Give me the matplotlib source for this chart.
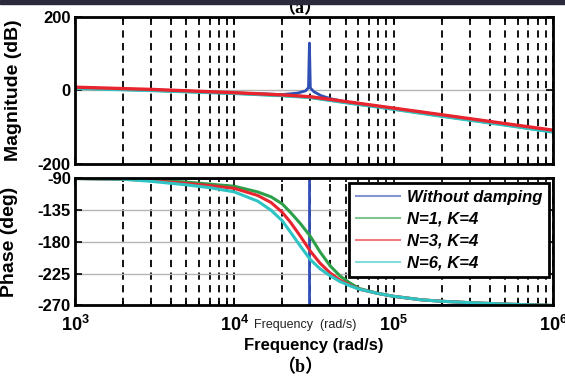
import matplotlib
matplotlib.use('Agg')
import matplotlib.pyplot as plt
from matplotlib.patches import Rectangle

plt.rcParams['font.family'] = ['Liberation Sans', 'DejaVu Sans']
plt.rcParams['mathtext.fontset'] = 'custom'
plt.rcParams['mathtext.rm'] = 'Liberation Sans'
plt.rcParams['mathtext.bf'] = 'Liberation Sans:bold'

# magnitude (dB)
mag_freq = [1e3, 3e3, 1e4, 2e4, 3e4, 5e4, 1e5, 2e5, 5e5, 1e6]
mag_n1 = [7, 1, -7, -13, -18, -32, -50, -69, -93, -112]
mag_n3 = [9, 3, -6, -12, -17, -30, -48, -66, -90, -108]
mag_n6 = [6, 0, -8, -14, -19, -33, -51, -70, -94, -113]

mag_blue_freq = [1e3, 1e4, 2e4, 2.5e4, 2.8e4, 2.92e4, 2.96e4, 3.0e4, 3.15e4, 3.5e4, 4e4, 5e4, 1e5, 2e5, 5e5, 1e6]
mag_blue = [8, -7, -11, -7, -1, 8, 129, 7, -3, -14, -22, -31, -49, -67, -91, -109]

# phase (deg)
ph_freq = [1e3, 2e3, 3e3, 5e3, 7e3, 1e4, 1.4e4, 1.7e4, 2e4, 2.25e4, 2.6e4, 3e4,
           3.45e4, 4e4, 4.6e4, 5.3e4, 6.1e4, 8e4, 1e5, 1.5e5, 2e5, 3e5, 5e5, 1e6]
ph_n1 = [-90, -91, -92, -95, -98, -101, -109, -116, -126, -138, -154, -172,
         -194, -214, -228, -238, -246, -253, -257, -262, -264, -266, -268, -270]
ph_n3 = [-90, -91, -93, -97, -100, -104, -114, -124, -138, -152, -172, -193,
         -210, -224, -234, -241, -247, -253, -257, -262, -264, -266, -268, -270]
ph_n6 = [-90, -91, -94, -99, -103, -109, -122, -135, -150, -166, -186, -205,
         -218, -228, -236, -242, -247, -253, -257, -262, -264, -266, -268, -270]

ph_blue_freq = [1e3, 2.96e4, 2.96e4, 1e6]
ph_blue = [-90, -90, -270, -270]

labels = ['Without damping', 'N=1, K=4', 'N=3, K=4', 'N=6, K=4']
colors = ['#2f4fb5', '#2ca048', '#e8252f', '#2fc4c4']

fig = plt.figure(figsize=(5.65, 3.81), dpi=100)
ax1 = fig.add_axes([0.1327, 0.5696, 0.8461, 0.3858])
ax2 = fig.add_axes([0.1327, 0.1982, 0.8461, 0.3333])


def style_axis(ax):
    ax.set_xscale('log')
    ax.set_xlim(1e3, 1e6)
    ax.set_axisbelow(True)
    ax.grid(True, which='both', axis='x', color='k', linestyle=(0, (4, 3)), linewidth=1.3)
    ax.grid(True, which='major', axis='y', color='#b4b4b4', linestyle='-', linewidth=1.0)
    ax.tick_params(which='both', direction='in', top=True, right=True, width=1.2)
    ax.tick_params(which='major', length=5, labelsize=12, pad=3)
    ax.tick_params(which='minor', length=3)
    for s in ax.spines.values():
        s.set_linewidth(2.0)


style_axis(ax1)
style_axis(ax2)

ax1.plot(mag_blue_freq, mag_blue, color=colors[0], lw=2)
ax1.plot(mag_freq, mag_n1, color=colors[1], lw=2.4)
ax1.plot(mag_freq, mag_n6, color=colors[3], lw=2.4)
ax1.plot(mag_freq, mag_n3, color=colors[2], lw=2.4)
ax1.set_ylim(-200, 200)
ax1.set_yticks([-200, 0, 200])
ax1.set_yticklabels(['-200', '0', '200'], fontweight='bold')
ax1.tick_params(labelbottom=False)
ax1.set_ylabel('Magnitude (dB)', fontsize=14, fontweight='bold')
ax1.yaxis.set_label_coords(-0.111, 0.5)

ax2.plot(ph_blue_freq, ph_blue, color=colors[0], lw=2, label=labels[0])
ax2.plot(ph_freq, ph_n1, color=colors[1], lw=2.2, label=labels[1])
ax2.plot(ph_freq, ph_n3, color=colors[2], lw=2.2, label=labels[2])
ax2.plot(ph_freq, ph_n6, color=colors[3], lw=2.2, label=labels[3])
ax2.set_ylim(-270, -90)
ax2.set_yticks([-270, -225, -180, -135, -90])
ax2.set_yticklabels(['-270', '-225', '-180', '-135', '-90'], fontweight='bold')
ax2.set_xticks([1e3, 1e4, 1e5, 1e6])
ax2.set_xticklabels([r'$\mathbf{10^{3}}$', r'$\mathbf{10^{4}}$',
                     r'$\mathbf{10^{5}}$', r'$\mathbf{10^{6}}$'], fontsize=13)
ax2.tick_params(axis='x', which='major', pad=7)
ax2.set_ylabel('Phase (deg)', fontsize=14, fontweight='bold')
ax2.yaxis.set_label_coords(-0.12, 0.5)
ax2.set_xlabel('Frequency (rad/s)', fontsize=12, fontweight='bold', labelpad=2)

leg = ax2.legend(loc='upper right', bbox_to_anchor=(0.9916, 0.9646), borderaxespad=0,
                 fancybox=False, framealpha=1, edgecolor='k', handlelength=2.65,
                 handletextpad=0.4, labelspacing=0.42, borderpad=0.4,
                 prop={'size': 12, 'weight': 'bold', 'style': 'italic'})
leg.get_frame().set_linewidth(2.0)
for h in leg.get_lines():
    h.set_alpha(0.6)
    h.set_linewidth(1.5)

fig.text(305 / 565, 1 - 325 / 381, 'Frequency  (rad/s)', fontsize=9,
         ha='center', va='center', color='#222222')
fig.text(300 / 565, 1 - 368 / 381, '（b）', fontsize=13, fontweight='bold',
         family=['Liberation Serif', 'Noto Sans CJK SC'], ha='center', va='center')
fig.text(300 / 565, 1 - 9 / 381, '（a）', fontsize=13, fontweight='bold',
         family=['Liberation Serif', 'Noto Sans CJK SC'], ha='center', va='center')
fig.patches.append(Rectangle((0, 1 - 4 / 381), 1, 4 / 381, transform=fig.transFigure,
                             color='#2a2a3c', zorder=10))

fig.savefig('out.png', dpi=100)
